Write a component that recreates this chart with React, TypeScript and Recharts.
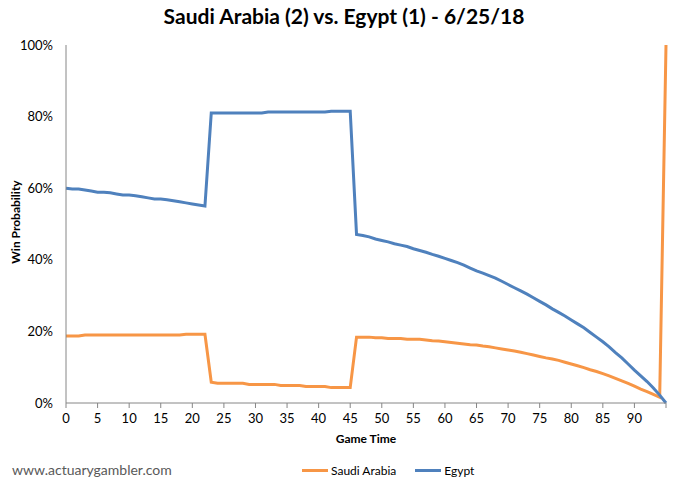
import { Line, LineChart, XAxis, YAxis } from "recharts";

// win probability (%) per minute of game time, 0..95
const saudiArabia = [
  18.7, 18.7, 18.7, 19.0, 19.0, 19.0, 19.0, 19.0, 19.0, 19.0,
  19.0, 19.0, 19.0, 19.0, 19.0, 19.0, 19.0, 19.0, 19.0, 19.2,
  19.2, 19.2, 19.2, 5.8, 5.5, 5.5, 5.5, 5.5, 5.5, 5.2,
  5.2, 5.2, 5.2, 5.2, 4.9, 4.9, 4.9, 4.9, 4.6, 4.6,
  4.6, 4.6, 4.3, 4.3, 4.3, 4.3, 18.4, 18.4, 18.4, 18.2,
  18.2, 18.0, 18.0, 18.0, 17.8, 17.8, 17.8, 17.6, 17.4, 17.3,
  17.1, 16.9, 16.7, 16.5, 16.3, 16.2, 15.9, 15.7, 15.4, 15.1,
  14.8, 14.5, 14.2, 13.8, 13.4, 13.0, 12.6, 12.3, 11.9, 11.4,
  10.9, 10.4, 9.9, 9.3, 8.8, 8.2, 7.6, 6.9, 6.2, 5.5,
  4.7, 3.9, 3.2, 2.4, 1.6, 100,
];

const egypt = [
  60.0, 59.8, 59.8, 59.5, 59.2, 58.9, 58.9, 58.7, 58.4, 58.1,
  58.1, 57.9, 57.6, 57.3, 57.0, 57.0, 56.8, 56.5, 56.2, 55.9,
  55.6, 55.3, 55.0, 81.0, 81.0, 81.0, 81.0, 81.0, 81.0, 81.0,
  81.0, 81.0, 81.3, 81.3, 81.3, 81.3, 81.3, 81.3, 81.3, 81.3,
  81.3, 81.3, 81.5, 81.5, 81.5, 81.5, 47.1, 46.8, 46.4, 45.8,
  45.4, 45.0, 44.5, 44.1, 43.7, 43.1, 42.6, 42.1, 41.5, 41.0,
  40.4, 39.8, 39.2, 38.5, 37.7, 36.9, 36.3, 35.6, 34.9, 34.0,
  33.1, 32.2, 31.3, 30.4, 29.4, 28.4, 27.4, 26.3, 25.3, 24.3,
  23.2, 22.1, 21.0, 19.7, 18.4, 17.1, 15.7, 14.1, 12.6, 10.9,
  9.2, 7.6, 6.0, 4.2, 2.2, 0,
];

const xTicks = [0, 5, 10, 15, 20, 25, 30, 35, 40, 45, 50, 55, 60, 65, 70, 75, 80, 85, 90, 95];
const yTicks = [0, 20, 40, 60, 80, 100];

const data = egypt.map((e, i) => ({ minute: i, egypt: e, saudi: saudiArabia[i] }));

const FONT = "Lato, 'Open Sans', sans-serif";
const ORANGE = "#F79646";
const BLUE = "#4F81BD";
const AXIS = "#868686";

export default function App() {
  return (
    <div style={{ position: "absolute", left: 0, top: 0, width: 688, height: 489, fontFamily: FONT, background: "#fff" }}>
      <div style={{ position: "absolute", left: 0, width: 688, top: 3, textAlign: "center", fontSize: 21, fontWeight: 700, color: "#000" }}>
        Saudi Arabia (2) vs. Egypt (1) - 6/25/18
      </div>
      <LineChart width={688} height={489} data={data} margin={{ top: 45, right: 22, bottom: 0, left: 0 }} style={{ fontFamily: FONT }}>
        <XAxis
          type="number"
          dataKey="minute"
          domain={[0, 95]}
          ticks={xTicks}
          tickFormatter={(v: number) => (v === 95 ? "" : String(v))}
          height={86}
          stroke={AXIS}
          tickSize={5}
          tickMargin={6}
          tick={{ fontSize: 13, fill: "#000" }}
        />
        <YAxis
          type="number"
          domain={[0, 100]}
          ticks={yTicks}
          tickFormatter={(v: number) => `${v}%`}
          width={66}
          stroke={AXIS}
          tickLine={false}
          tickSize={5}
          tickMargin={8}
          tick={{ fontSize: 13, fill: "#000" }}
        />
        <Line type="linear" dataKey="saudi" stroke={ORANGE} strokeWidth={3} dot={false} isAnimationActive={false} />
        <Line type="linear" dataKey="egypt" stroke={BLUE} strokeWidth={3} dot={false} isAnimationActive={false} />
      </LineChart>
      <div style={{ position: "absolute", left: 0, top: 0, width: 30, height: 489 }}>
        <div style={{ position: "absolute", left: 15, top: 222, transform: "translate(-50%, -50%) rotate(-90deg)", whiteSpace: "nowrap", fontSize: 12, fontWeight: 700 }}>
          Win Probability
        </div>
      </div>
      <div style={{ position: "absolute", left: 66, width: 600, top: 431, textAlign: "center", fontSize: 12, fontWeight: 700 }}>
        Game Time
      </div>
      <div style={{ position: "absolute", left: 12, top: 461, fontSize: 14, color: "#595959" }}>
        www.actuarygambler.com
      </div>
      <div style={{ position: "absolute", left: 302, top: 463, fontSize: 12, display: "flex", alignItems: "center" }}>
        <span style={{ display: "inline-block", width: 26, height: 3, background: ORANGE, marginRight: 3 }} />
        <span style={{ marginRight: 19 }}>Saudi Arabia</span>
        <span style={{ display: "inline-block", width: 26, height: 3, background: BLUE, marginRight: 3 }} />
        <span>Egypt</span>
      </div>
    </div>
  );
}
